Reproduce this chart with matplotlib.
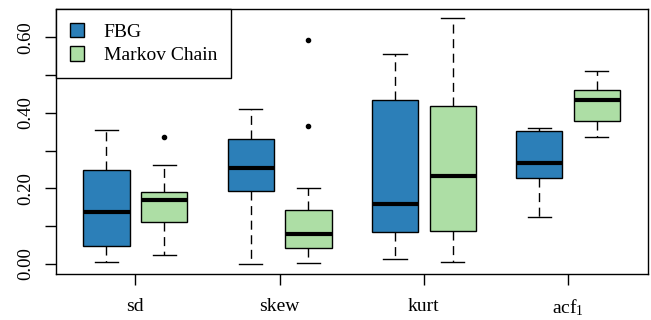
import matplotlib
matplotlib.use("Agg")
import matplotlib.pyplot as plt
from matplotlib.patches import Patch

categories = ["sd", "skew", "kurt", "acf$_1$"]
series = ["FBG", "Markov Chain"]
colors = ["#2c7fb8", "#addea5"]

# five-number summaries per category: whisker low, q1, median, q3, whisker high
fbg_whislo = [0.006, 0.001, 0.012, 0.125]
fbg_q1     = [0.047, 0.193, 0.085, 0.228]
fbg_med    = [0.137, 0.254, 0.159, 0.267]
fbg_q3     = [0.248, 0.330, 0.435, 0.351]
fbg_whishi = [0.355, 0.411, 0.556, 0.360]
fbg_fliers = [[], [], [], []]

mc_whislo = [0.023, 0.003, 0.006, 0.335]
mc_q1     = [0.111, 0.042, 0.087, 0.378]
mc_med    = [0.170, 0.079, 0.232, 0.434]
mc_q3     = [0.191, 0.142, 0.418, 0.460]
mc_whishi = [0.263, 0.200, 0.652, 0.511]
mc_fliers = [[0.337], [0.364, 0.592], [], []]

y_ticks = [0.0, 0.1, 0.2, 0.3, 0.4, 0.5, 0.6]
y_labels = ["0.00", "", "0.20", "", "0.40", "", "0.60"]

plt.rcParams['font.family'] = ['Liberation Serif', 'DejaVu Serif']
plt.rcParams['mathtext.fontset'] = 'custom'
plt.rcParams['mathtext.rm'] = 'Liberation Serif'
plt.rcParams['mathtext.it'] = 'Liberation Serif'
plt.rcParams['mathtext.default'] = 'rm'

fig = plt.figure(figsize=(6.51, 3.20), dpi=100)
ax = fig.add_axes([56/651, 1 - 274/320, (648 - 56)/651, (274 - 9)/320])

def stats(wl, q1, md, q3, wh, fl):
    return [dict(whislo=a, q1=b, med=c, q3=d, whishi=e, fliers=f)
            for a, b, c, d, e, f in zip(wl, q1, md, q3, wh, fl)]

groups = [
    stats(fbg_whislo, fbg_q1, fbg_med, fbg_q3, fbg_whishi, fbg_fliers),
    stats(mc_whislo, mc_q1, mc_med, mc_q3, mc_whishi, mc_fliers),
]
offsets = [-0.2, 0.2]
base = list(range(1, len(categories) + 1))
for g, off, col in zip(groups, offsets, colors):
    pos = [b + off for b in base]
    ax.bxp(g, positions=pos, widths=0.32, patch_artist=True,
           showfliers=True, capwidths=0.16,
           boxprops=dict(facecolor=col, edgecolor='black', linewidth=1.0),
           medianprops=dict(color='black', linewidth=3.0, solid_capstyle='butt'),
           whiskerprops=dict(color='black', linewidth=1.0, linestyle=(0, (6.5, 4))),
           capprops=dict(color='black', linewidth=1.0),
           flierprops=dict(marker='o', markerfacecolor='black',
                           markeredgecolor='black', markersize=3))

ax.set_xlim(0.45, 4.554)
ax.set_ylim(-0.0265, 0.675)
ax.set_xticks(base)
ax.set_xticklabels(categories, fontsize=14)
ax.set_yticks(y_ticks)
ax.set_yticklabels(y_labels, fontsize=13.5, rotation=90, va='center')
ax.tick_params(axis='x', direction='out', length=8, width=1.0, pad=9)
ax.tick_params(axis='y', direction='out', length=8, width=1.0, pad=8)
for s in ax.spines.values():
    s.set_linewidth(1.0)

handles = [Patch(facecolor=c, edgecolor='black', linewidth=1.0) for c in colors]
leg = ax.legend(handles, series, loc='upper left', borderaxespad=0,
                fancybox=False, edgecolor='black', fontsize=14,
                handlelength=0.75, handleheight=0.75, borderpad=0.7,
                labelspacing=0.3, handletextpad=1.0, framealpha=1)
leg.get_frame().set_linewidth(1.0)

fig.savefig("out.png", dpi=100)
